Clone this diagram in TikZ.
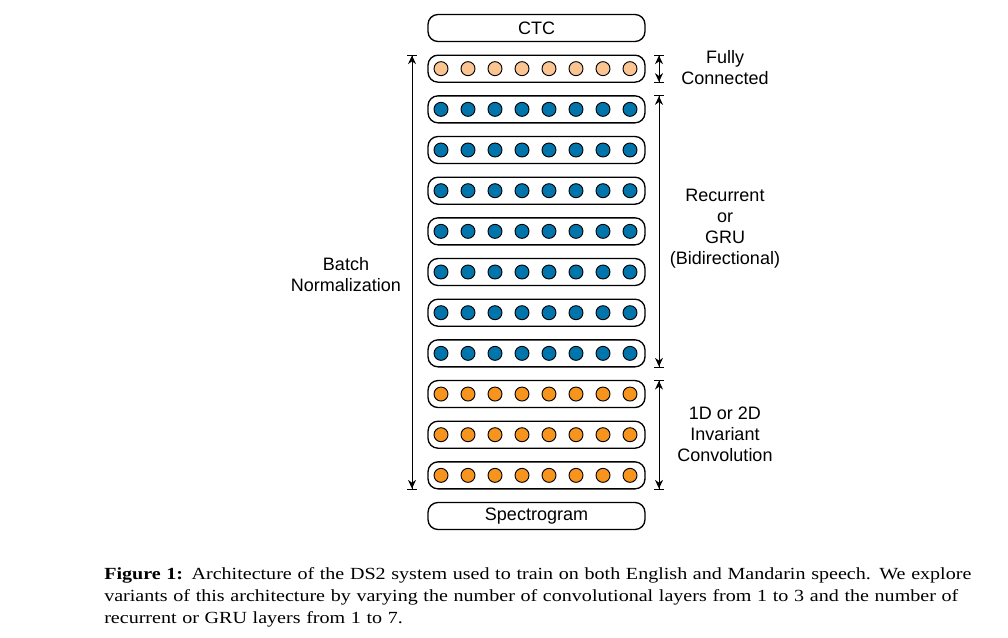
\documentclass[tikz,border=0pt]{standalone}
\usepackage{fontspec}
\setsansfont{Liberation Sans}
\newfontfamily\captionfont[FakeStretch=1.18]{Liberation Serif}
\usetikzlibrary{arrows.meta}

\definecolor{fcorange}{RGB}{251,196,145}
\definecolor{rnnblue}{RGB}{0,117,172}
\definecolor{convorange}{RGB}{247,148,29}

\tikzstyle{layerbox}=[
    draw,
    line width=1pt,
    rounded corners=7.5pt,
    minimum width=162.75pt,
    minimum height=20.25pt,
    inner sep=0pt,
  ]
\tikzstyle{neuron}=[
    circle,
    draw,
    line width=0.7pt,
    minimum size=10.5pt,
    inner sep=0pt,
  ]
\tikzstyle{measure}=[
    {Bar[width=7.5pt]Stealth[length=6.5pt,width=6pt]}-{Stealth[length=6.5pt,width=6pt]Bar[width=7.5pt]},
    line width=0.75pt,
  ]
\tikzstyle{tag}=[
    font=\sffamily\fontsize{13.5}{15.75}\selectfont,
    align=center,
  ]

\begin{document}
\begin{tikzpicture}[x=0.75pt, y=-0.75pt]
      \useasboundingbox (0,0) rectangle (1008,638);
      \node[layerbox, tag] (ctc) at (536.5,28) {CTC};
      \foreach \c [count=\r] in {fcorange, rnnblue, rnnblue, rnnblue, rnnblue,
          rnnblue, rnnblue, rnnblue, convorange, convorange, convorange} {%
        \node[layerbox] (row\r) at (536.5, {28+40.67*\r}) {};
        \foreach \i in {0,...,7}
          \node[neuron, fill=\c] (n\r-\i) at ({441+27*\i}, {28+40.67*\r}) {};
      }
      \node[layerbox, tag] (spec) at (536.5,516) {Spectrogram};
      \coordinate (bnx) at (412,0);
      \coordinate (sidex) at (659,0);
      \draw[measure] (row1.north -| bnx) -- (row11.south -| bnx);
      \draw[measure] (row1.north -| sidex) -- (row1.south -| sidex);
      \draw[measure] (row2.north -| sidex) -- (row8.south -| sidex);
      \draw[measure] (row9.north -| sidex) -- (row11.south -| sidex);
      \node[tag] (bnlabel) at (346,274.5) {Batch\\Normalization};
      \node[tag] (fclabel) at (725,68) {Fully\\Connected};
      \node[tag] (rnnlabel) at (725,228.5) {Recurrent\\or\\GRU\\(Bidirectional)};
      \node[tag] (convlabel) at (725,434) {1D or 2D\\Invariant\\Convolution};
      \node[anchor=north west, text width=647pt, align=left, inner sep=0pt,
        font=\captionfont\fontsize{12.75}{16.5}\selectfont] (caption) at (104,567)
        {\makebox[647pt][s]{\textbf{Figure 1:} Architecture of the DS2 system used to train on both English and Mandarin speech. We explore}\\
        \makebox[647pt][s]{variants of this architecture by varying the number of convolutional layers from 1 to 3 and the number of}\\
        recurrent or GRU layers from 1 to 7.};
    \end{tikzpicture}
\end{document}
